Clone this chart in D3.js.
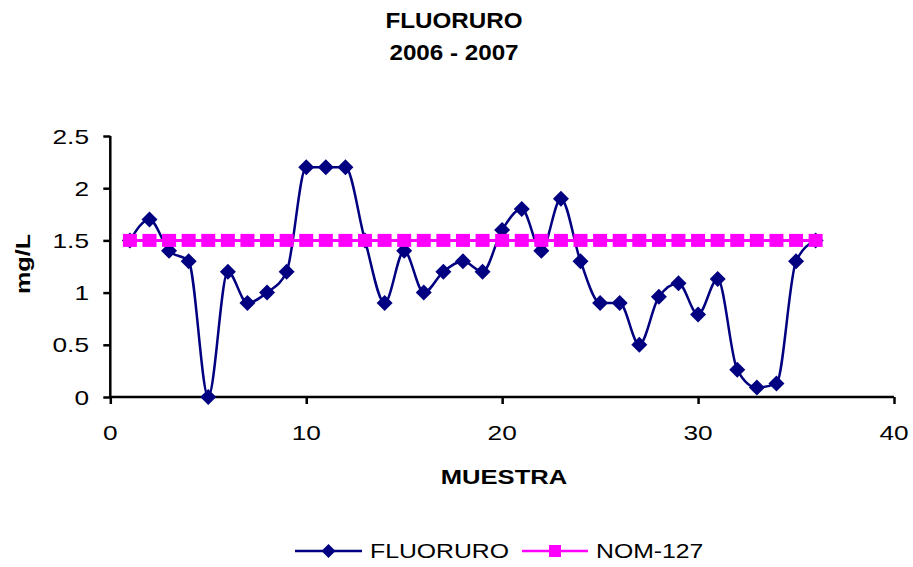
<!DOCTYPE html>
<html>
<head>
<meta charset="utf-8">
<script src="https://cdn.jsdelivr.net/npm/d3@7"></script>
<style>
  body { margin: 0; background: #fff; }
  text { font-family: "Liberation Sans", Arial, sans-serif; fill: #000; }
</style>
</head>
<body>
<svg id="chart" width="913" height="567"></svg>
<script>
const muestra = d3.range(1, 37);
const fluoruro = [1.5, 1.7, 1.4, 1.3, 0.0, 1.2, 0.9, 1.0, 1.2, 2.2,
                  2.2, 2.2, 1.5, 0.9, 1.4, 1.0, 1.2, 1.3, 1.2, 1.6,
                  1.8, 1.4, 1.9, 1.3, 0.9, 0.9, 0.5, 0.96, 1.09, 0.79,
                  1.13, 0.26, 0.09, 0.13, 1.3, 1.5];
const nom127 = muestra.map(() => 1.5);
const xTicks = [0, 10, 20, 30, 40];
const yTicks = [0, 0.5, 1, 1.5, 2, 2.5];
const yTickLabels = ["0", "0.5", "1", "1.5", "2", "2.5"];
const titleLines = ["FLUORURO", "2006 - 2007"];
const seriesNames = ["FLUORURO", "NOM-127"];
const colors = ["#000080", "#FF00FF"];

const svg = d3.select("#chart");
const x = d3.scaleLinear().domain([0, 40]).range([110.3, 894]);
const y = d3.scaleLinear().domain([0, 2.5]).range([397, 136]);

function stretchedText(g, tx, ty, str, opts) {
  const sx = opts.sx || 1.2;
  return g.append("text")
    .attr("transform", `translate(${tx},${ty}) scale(${sx},1)`)
    .attr("text-anchor", opts.anchor || "middle")
    .attr("dominant-baseline", "central")
    .style("font-size", (opts.size || 21) + "px")
    .style("font-weight", opts.bold ? "bold" : "normal")
    .text(str);
}

// Titles
stretchedText(svg, 454, 20, titleLines[0], {size: 22, bold: true, sx: 1.1});
stretchedText(svg, 454, 52, titleLines[1], {size: 22, bold: true, sx: 1.1});

// Axes
const xAxis = svg.append("g").attr("transform", `translate(0,${y(0)})`)
  .call(d3.axisBottom(x).tickValues(xTicks).tickSize(7).tickFormat(""));
const yAxis = svg.append("g").attr("transform", `translate(${x(0)},0)`)
  .call(d3.axisLeft(y).tickValues(yTicks).tickSize(7).tickFormat(""));
[xAxis, yAxis].forEach(a => {
  a.select(".domain").attr("stroke", "#000").attr("stroke-width", 2.5);
  a.selectAll(".tick line").attr("stroke", "#000").attr("stroke-width", 2.5);
});
xAxis.select(".domain").attr("d", `M${x(0)},0H${x(40)}`);
yAxis.select(".domain").attr("d", `M0,${y(0)}V${y(2.5)}`);

xTicks.forEach(v => stretchedText(svg, x(v), 432, String(v), {size: 21, sx: 1.25}));
yTicks.forEach((v, i) => stretchedText(svg, 89, y(v), yTickLabels[i], {size: 21, sx: 1.25, anchor: "end"}));

// Axis titles
stretchedText(svg, 504, 477, "MUESTRA", {size: 21, bold: true, sx: 1.22});
svg.append("text")
  .attr("transform", `translate(23,264) rotate(-90) scale(1.2,1)`)
  .attr("text-anchor", "middle").attr("dominant-baseline", "central")
  .style("font-size", "21px").style("font-weight", "bold").text("mg/L");

// Series
const line = d3.line().x((d, i) => x(muestra[i])).y(d => y(d)).curve(d3.curveMonotoneX);
const lineStraight = d3.line().x((d, i) => x(muestra[i])).y(d => y(d));
const diamond = s => `M0,${-s}L${s},0L0,${s}L${-s},0Z`;

svg.append("path").datum(fluoruro).attr("d", line)
  .attr("fill", "none").attr("stroke", colors[0]).attr("stroke-width", 2.5);
svg.append("g").selectAll("path").data(fluoruro).join("path")
  .attr("transform", (d, i) => `translate(${x(muestra[i])},${y(d)})`)
  .attr("d", diamond(8)).attr("fill", colors[0]);

svg.append("path").datum(nom127).attr("d", lineStraight)
  .attr("fill", "none").attr("stroke", colors[1]).attr("stroke-width", 3);
svg.append("g").selectAll("rect").data(nom127).join("rect")
  .attr("x", (d, i) => x(muestra[i]) - 7).attr("y", d => y(d) - 6.5)
  .attr("width", 14).attr("height", 13).attr("fill", colors[1]);

// Legend
const lg = svg.append("g");
const legendY = 551;
const legendItems = [
  {x0: 295, x1: 362, text: 370},
  {x0: 522, x1: 588, text: 596}
];
legendItems.forEach((it, i) => {
  lg.append("line").attr("x1", it.x0).attr("x2", it.x1).attr("y1", legendY).attr("y2", legendY)
    .attr("stroke", colors[i]).attr("stroke-width", 2.5);
  const cx = (it.x0 + it.x1) / 2;
  if (i === 0) {
    lg.append("path").attr("transform", `translate(${cx},${legendY})`).attr("d", diamond(7)).attr("fill", colors[0]);
  } else {
    lg.append("rect").attr("x", cx - 6).attr("y", legendY - 6).attr("width", 12).attr("height", 12).attr("fill", colors[1]);
  }
  stretchedText(lg, it.text, legendY, seriesNames[i], {size: 21, sx: 1.18, anchor: "start"});
});
</script>
</body>
</html>
